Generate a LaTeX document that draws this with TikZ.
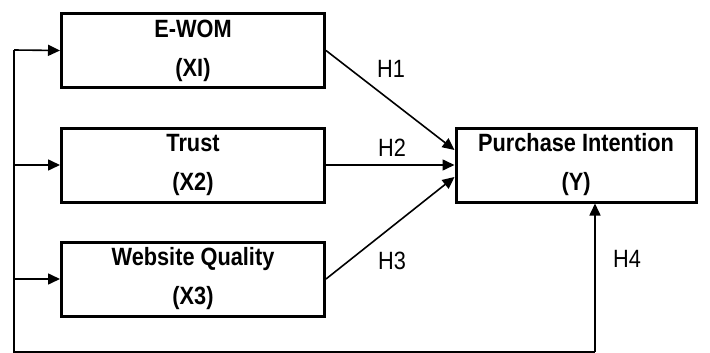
\documentclass[tikz,border=0pt]{standalone}
\usepackage{fontspec}
\setmainfont{Liberation Sans}[FakeStretch=0.87]
\usetikzlibrary{arrows.meta,calc}

\begin{document}
\begin{tikzpicture}[x=1pt,y=-1pt,
  varbox/.style={draw,line width=3pt,align=center,inner sep=0pt,
    minimum width=263pt,minimum height=74pt,
    font=\fontsize{25}{39}\selectfont\bfseries,
    execute at begin node=\rule{0pt}{24pt}},
  link/.style={line width=1.6pt,-{Triangle[length=12pt,width=11pt]}},
  hyp/.style={font=\fontsize{25}{28}\selectfont}]
\useasboundingbox (0,0) rectangle (710,353);
% variables
\node[varbox] (ewom) at (193,50.5) {E-WOM\\(XI)};
\node[varbox] (trust) at (193,165) {Trust\\(X2)};
\node[varbox] (web) at (193,279) {Website Quality\\(X3)};
\node[varbox,minimum width=240pt] (pi) at (576,165) {Purchase Intention\\(Y)};
% hypotheses
\draw[link] (ewom.east) -- ($(pi.west)+(0,-15)$);
\draw[link] (trust.east) -- (pi.west);
\draw[link] (web.east) -- ($(pi.west)+(0,12)$);
\node[hyp] (h1) at (391,69) {H1};
\node[hyp] (h2) at (392,148) {H2};
\node[hyp] (h3) at (392,261) {H3};
\node[hyp] (h4) at (627,259) {H4};
% feedback line on the left and bottom
\coordinate (top) at (14,50);
\coordinate (bot) at (14,352);
\coordinate (corner) at (595,352);
\draw[link] (top) -- (ewom.west);
\draw[link] (top |- trust.west) -- (trust.west);
\draw[link] (top |- web.west) -- (web.west);
\draw[line width=1.6pt] (top) -- (bot) -- (corner);
\draw[link] (corner) -- (corner |- pi.south);
\end{tikzpicture}
\end{document}
